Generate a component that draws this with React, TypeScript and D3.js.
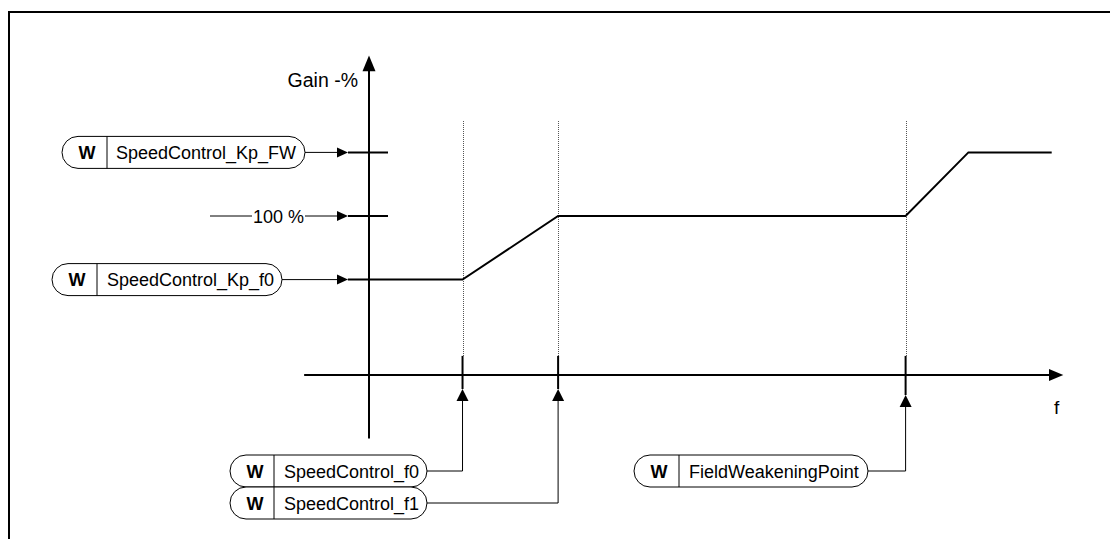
import React from "react";
import * as d3 from "d3";

// ---- data ----
const curveFreq = [-3.1, 13.7, 27.7, 78.6, 87.8, 100];
const curveGain = [60, 60, 100, 100, 140, 140];
const gainInputNames = ["SpeedControl_Kp_FW", "100 %", "SpeedControl_Kp_f0"];
const gainInputValues = [140, 100, 60];
const freqInputNames = ["SpeedControl_f0", "SpeedControl_f1", "FieldWeakeningPoint"];
const freqInputValues = [13.7, 27.7, 78.6];
const axisLabels = ["Gain -%", "f"];

const W = 1110;
const H = 539;
const FONT = "'Liberation Sans', Arial, Helvetica, sans-serif";

const x = d3.scaleLinear().domain([0, 100]).range([369, 1051.7]);
const y = d3.scaleLinear().domain([0, 100]).range([375, 216]);

const gainBoxLayout = [
  { l: 62, r: 305, div: 107, wx: 87, tx: 116 },
  null,
  { l: 52, r: 282, div: 97, wx: 77, tx: 107 },
];
const freqBoxLayout = [
  { l: 230, r: 427, div: 274, wx: 255, tx: 284, cy: 471, tip: 389 },
  { l: 230, r: 427, div: 274, wx: 255, tx: 284, cy: 503, tip: 389 },
  { l: 634, r: 868, div: 679, wx: 659, tx: 689, cy: 471, tip: 395 },
];

function Pill({ l, r, cy, div, wx, tx, label }: any) {
  const h = 32;
  return (
    <g>
      <rect x={l} y={cy - h / 2} width={r - l} height={h} rx={h / 2} ry={h / 2}
        fill="#fff" stroke="#000" strokeWidth={1} />
      <line x1={div} x2={div} y1={cy - h / 2} y2={cy + h / 2} stroke="#000" strokeWidth={1} />
      <text x={wx} y={cy + 6.5} textAnchor="middle" fontWeight="bold" fontSize={18} fontFamily={FONT}>W</text>
      <text x={tx} y={cy + 6.5} fontSize={18} fontFamily={FONT}>{label}</text>
    </g>
  );
}

export default function App() {
  const line = d3.line<number>().x((d) => x(d)).y((_, i) => y(curveGain[i]));
  const axisX = x(0);
  const axisY = y(0);
  const arrowBase = 337;
  const arrowTip = 348;
  const tickTop = y(12);

  return (
    <svg width={W} height={H} style={{ position: "absolute", left: 0, top: 0, background: "#fff" }}>
      {/* frame */}
      <line x1={8} x2={W} y1={12} y2={12} stroke="#000" strokeWidth={2} />
      <line x1={9} x2={9} y1={11} y2={H} stroke="#000" strokeWidth={2} />

      {/* dotted guide lines */}
      {freqInputValues.map((f, i) => (
        <line key={"g" + i} x1={Math.round(x(f)) + 0.5} x2={Math.round(x(f)) + 0.5} y1={y(160)} y2={tickTop}
          stroke="#555" strokeWidth={1} strokeDasharray="1,1" shapeRendering="crispEdges" />
      ))}

      {/* y axis */}
      <line x1={axisX} x2={axisX} y1={y(-40)} y2={y(196)} stroke="#000" strokeWidth={2} />
      <polygon points={`${axisX},${y(201)} ${axisX - 6.5},${y(191)} ${axisX + 6.5},${y(191)}`} fill="#000" />
      <text x={358} y={87} textAnchor="end" fontSize={19.5} fontFamily={FONT}>{axisLabels[0]}</text>

      {/* x axis */}
      <line x1={x(-9.5)} x2={x(100)} y1={axisY} y2={axisY} stroke="#000" strokeWidth={2} />
      <polygon points={`${x(101.7)},${axisY} ${x(99.6)},${axisY - 6} ${x(99.6)},${axisY + 6}`} fill="#000" />
      <text x={1054} y={414} fontSize={19} fontFamily={FONT}>{axisLabels[1]}</text>

      {/* gain curve */}
      <path d={line(curveFreq) || ""} fill="none" stroke="#000" strokeWidth={2} strokeLinejoin="miter" />

      {/* gain inputs */}
      {gainInputNames.map((name, i) => {
        const cy = y(gainInputValues[i]);
        const lay = gainBoxLayout[i];
        return (
          <g key={"gi" + i}>
            {lay ? (
              <>
                <Pill {...lay} cy={cy} label={name} />
                <line x1={lay.r} x2={arrowBase} y1={cy} y2={cy} stroke="#000" strokeWidth={1} />
              </>
            ) : (
              <>
                <line x1={210} x2={252} y1={cy} y2={cy} stroke="#000" strokeWidth={1} />
                <text x={253} y={cy + 6.5} fontSize={18} fontFamily={FONT}>{name}</text>
                <line x1={305} x2={arrowBase} y1={cy} y2={cy} stroke="#000" strokeWidth={1} />
              </>
            )}
            <polygon points={`${arrowTip},${cy} ${arrowBase},${cy - 5} ${arrowBase},${cy + 5}`} fill="#000" />
            {gainInputValues[i] !== curveGain[0] && (
              <line x1={arrowTip} x2={388} y1={cy} y2={cy} stroke="#000" strokeWidth={2} />
            )}
          </g>
        );
      })}

      {/* frequency inputs */}
      {freqInputNames.map((name, i) => {
        const fx = x(freqInputValues[i]);
        const lay = freqBoxLayout[i];
        return (
          <g key={"fi" + i}>
            <line x1={fx} x2={fx} y1={tickTop} y2={lay.tip} stroke="#000" strokeWidth={2} />
            <polygon points={`${fx},${lay.tip} ${fx - 6},${lay.tip + 12} ${fx + 6},${lay.tip + 12}`} fill="#000" />
            <line x1={fx} x2={fx} y1={lay.tip + 12} y2={lay.cy} stroke="#000" strokeWidth={1} />
            <line x1={lay.r} x2={fx} y1={lay.cy} y2={lay.cy} stroke="#000" strokeWidth={1} />
          </g>
        );
      })}
      {freqInputNames.map((name, i) => (
        <Pill key={"fp" + i} {...freqBoxLayout[i]} label={name} />
      ))}
    </svg>
  );
}
